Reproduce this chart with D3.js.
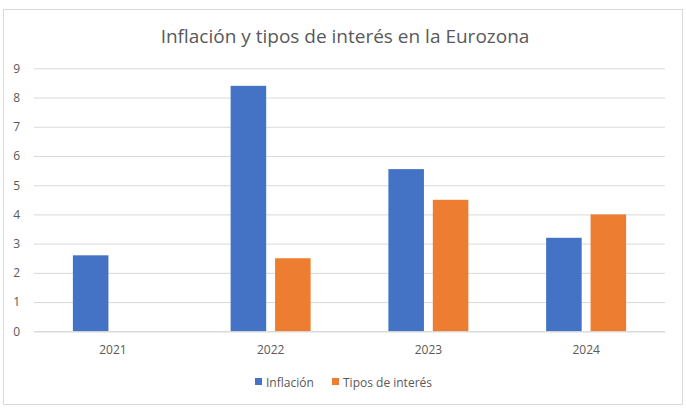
<!DOCTYPE html>
<html>
<head>
<meta charset="utf-8">
<script src="https://cdn.jsdelivr.net/npm/d3@7"></script>
<style>
  html, body { margin: 0; padding: 0; background: #fff; }
  svg { display: block; }
  text { font-family: "Open Sans", "Noto Sans", sans-serif; fill: #595959; }
</style>
</head>
<body>
<svg id="chart" width="686" height="409"></svg>
<script>
const title = "Inflación y tipos de interés en la Eurozona";
const years = ["2021", "2022", "2023", "2024"];
const seriesNames = ["Inflación", "Tipos de interés"];
const inflacion = [2.6, 8.4, 5.55, 3.2];
const tiposInteres = [null, 2.5, 4.5, 4.0];
const yTicks = [0, 1, 2, 3, 4, 5, 6, 7, 8, 9];
const colors = ["#4472C4", "#ED7D31"];

const svg = d3.select("#chart");
const W = 686, H = 409;

// chart border
svg.append("rect")
  .attr("x", 3.5).attr("y", 9.5)
  .attr("width", 679).attr("height", 395)
  .attr("fill", "#fff").attr("stroke", "#d9d9d9").attr("stroke-width", 1);

const plot = { left: 34, right: 665, top: 68.3, bottom: 331.3 };

const y = d3.scaleLinear().domain([0, 9]).range([plot.bottom, plot.top]);
const x0 = d3.scaleBand().domain(years).range([plot.left, plot.right])
  .paddingInner(0.493).paddingOuter(0.2465);
const x1 = d3.scaleBand().domain(seriesNames).range([0, x0.bandwidth()])
  .paddingInner(0.2).paddingOuter(0);

// gridlines
const yAxis = d3.axisLeft(y).tickValues(yTicks)
  .tickSize(-(plot.right - plot.left)).tickPadding(14).tickFormat(d3.format("d"));
const gy = svg.append("g").attr("transform", `translate(${plot.left},0)`).call(yAxis);
gy.select(".domain").remove();
gy.selectAll(".tick line").attr("stroke", "#d9d9d9").attr("stroke-width", 1);
gy.selectAll(".tick text").attr("fill", "#595959").style("font-size", "12px")
  .style("font-family", "'Open Sans', sans-serif");

// bars
const data = years.map((yr, i) => ({ year: yr, values: [
  { name: seriesNames[0], value: inflacion[i], color: colors[0] },
  { name: seriesNames[1], value: tiposInteres[i], color: colors[1] }
]}));

const groups = svg.append("g").selectAll("g").data(data).join("g")
  .attr("transform", d => `translate(${x0(d.year)},0)`);
groups.selectAll("rect").data(d => d.values.filter(v => v.value != null)).join("rect")
  .attr("x", d => x1(d.name))
  .attr("width", x1.bandwidth())
  .attr("y", d => y(d.value))
  .attr("height", d => y(0) - y(d.value))
  .attr("fill", d => d.color);

// x axis
const xAxis = d3.axisBottom(x0).tickSize(0).tickPadding(14);
const gx = svg.append("g").attr("transform", `translate(0,${plot.bottom})`).call(xAxis);
gx.select(".domain").attr("stroke", "#d9d9d9");
gx.selectAll(".tick text").attr("fill", "#595959").style("font-size", "12px")
  .style("font-family", "'Open Sans', sans-serif");

// title
svg.append("text")
  .attr("x", 345).attr("y", 43)
  .attr("text-anchor", "middle")
  .style("font-size", "19px")
  .attr("fill", "#595959")
  .text(title);

// legend
const legendItems = [
  { name: seriesNames[0], color: colors[0], x: 255 },
  { name: seriesNames[1], color: colors[1], x: 332 }
];
const lg = svg.append("g");
legendItems.forEach(it => {
  lg.append("rect").attr("x", it.x).attr("y", 378).attr("width", 7).attr("height", 7).attr("fill", it.color);
  lg.append("text").attr("x", it.x + 11).attr("y", 386.5)
    .style("font-size", "12px").attr("fill", "#595959").text(it.name);
});
</script>
</body>
</html>
